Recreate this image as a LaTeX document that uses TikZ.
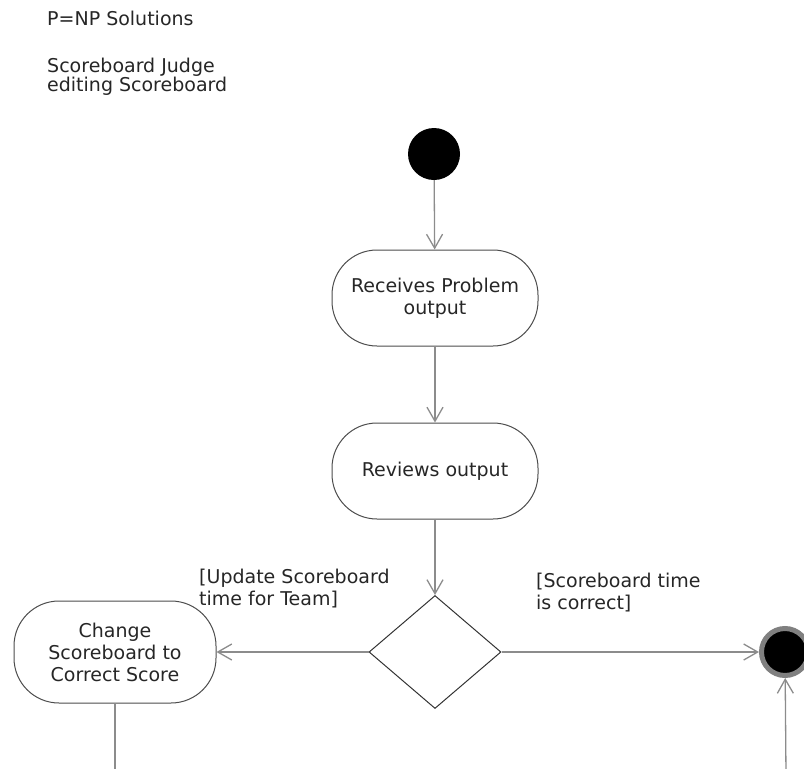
\documentclass[tikz,border=0pt]{standalone}
\usepackage{fontspec}
\setmainfont{DejaVu Sans}
\usetikzlibrary{shapes.geometric,arrows.meta}
\begin{document}
\begin{tikzpicture}[x=1pt,y=-1pt,
		every node/.style={font=\fontsize{19}{22}\selectfont,text=black!85},
		action/.style={draw=black!70,line width=1pt,rounded corners=45pt,minimum width=206pt,minimum height=96pt,align=center},
		flow/.style={draw=black!45,line width=1.3pt,-{Straight Barb[length=14pt,width=16pt]}},
		guard/.style={anchor=north west,align=left,inner sep=0pt}]
		\useasboundingbox (0,0) rectangle (804,769);
		\node[anchor=base west,inner sep=0pt] (company) at (47,25) {P=NP Solutions};
		\node[anchor=north west,align=left,inner sep=0pt,font=\fontsize{19}{19}\selectfont] (usecase) at (47,58) {Scoreboard Judge\\editing Scoreboard};
		\node[circle,fill=black,minimum size=52pt,inner sep=0pt] (start) at (434,154) {};
		\node[action] (receive) at (435,298) {Receives Problem\\output};
		\node[action] (review) at (435,471) {Reviews output};
		\node[diamond,draw=black!80,line width=1pt,minimum width=132pt,minimum height=113pt,inner sep=0pt] (check) at (435,652) {};
		\node[action,minimum height=102pt,minimum width=202pt] (change) at (115,652) {Change\\Scoreboard to\\Correct Score};
		\node[circle,fill=black,draw=black!50,line width=5pt,minimum size=47pt,inner sep=0pt] (final) at (785,652) {};
		\coordinate (changeout) at (115,775);
		\coordinate (finalin) at (786,775);
		\draw [flow] (start) -- (receive);
		\draw [flow] (receive) -- (review);
		\draw [flow] (review) -- (check);
		\draw [flow] (check) -- (change);
		\draw [flow] (check) -- (final);
		\draw [draw=black!45,line width=1.3pt] (change) -- (changeout);
		\draw [flow] (finalin) -- (final);
		\node[guard] (update) at (199,569) {[Update Scoreboard\\time for Team]};
		\node[guard] (correct) at (536,573) {[Scoreboard time\\is correct]};
	\end{tikzpicture}
\end{document}
